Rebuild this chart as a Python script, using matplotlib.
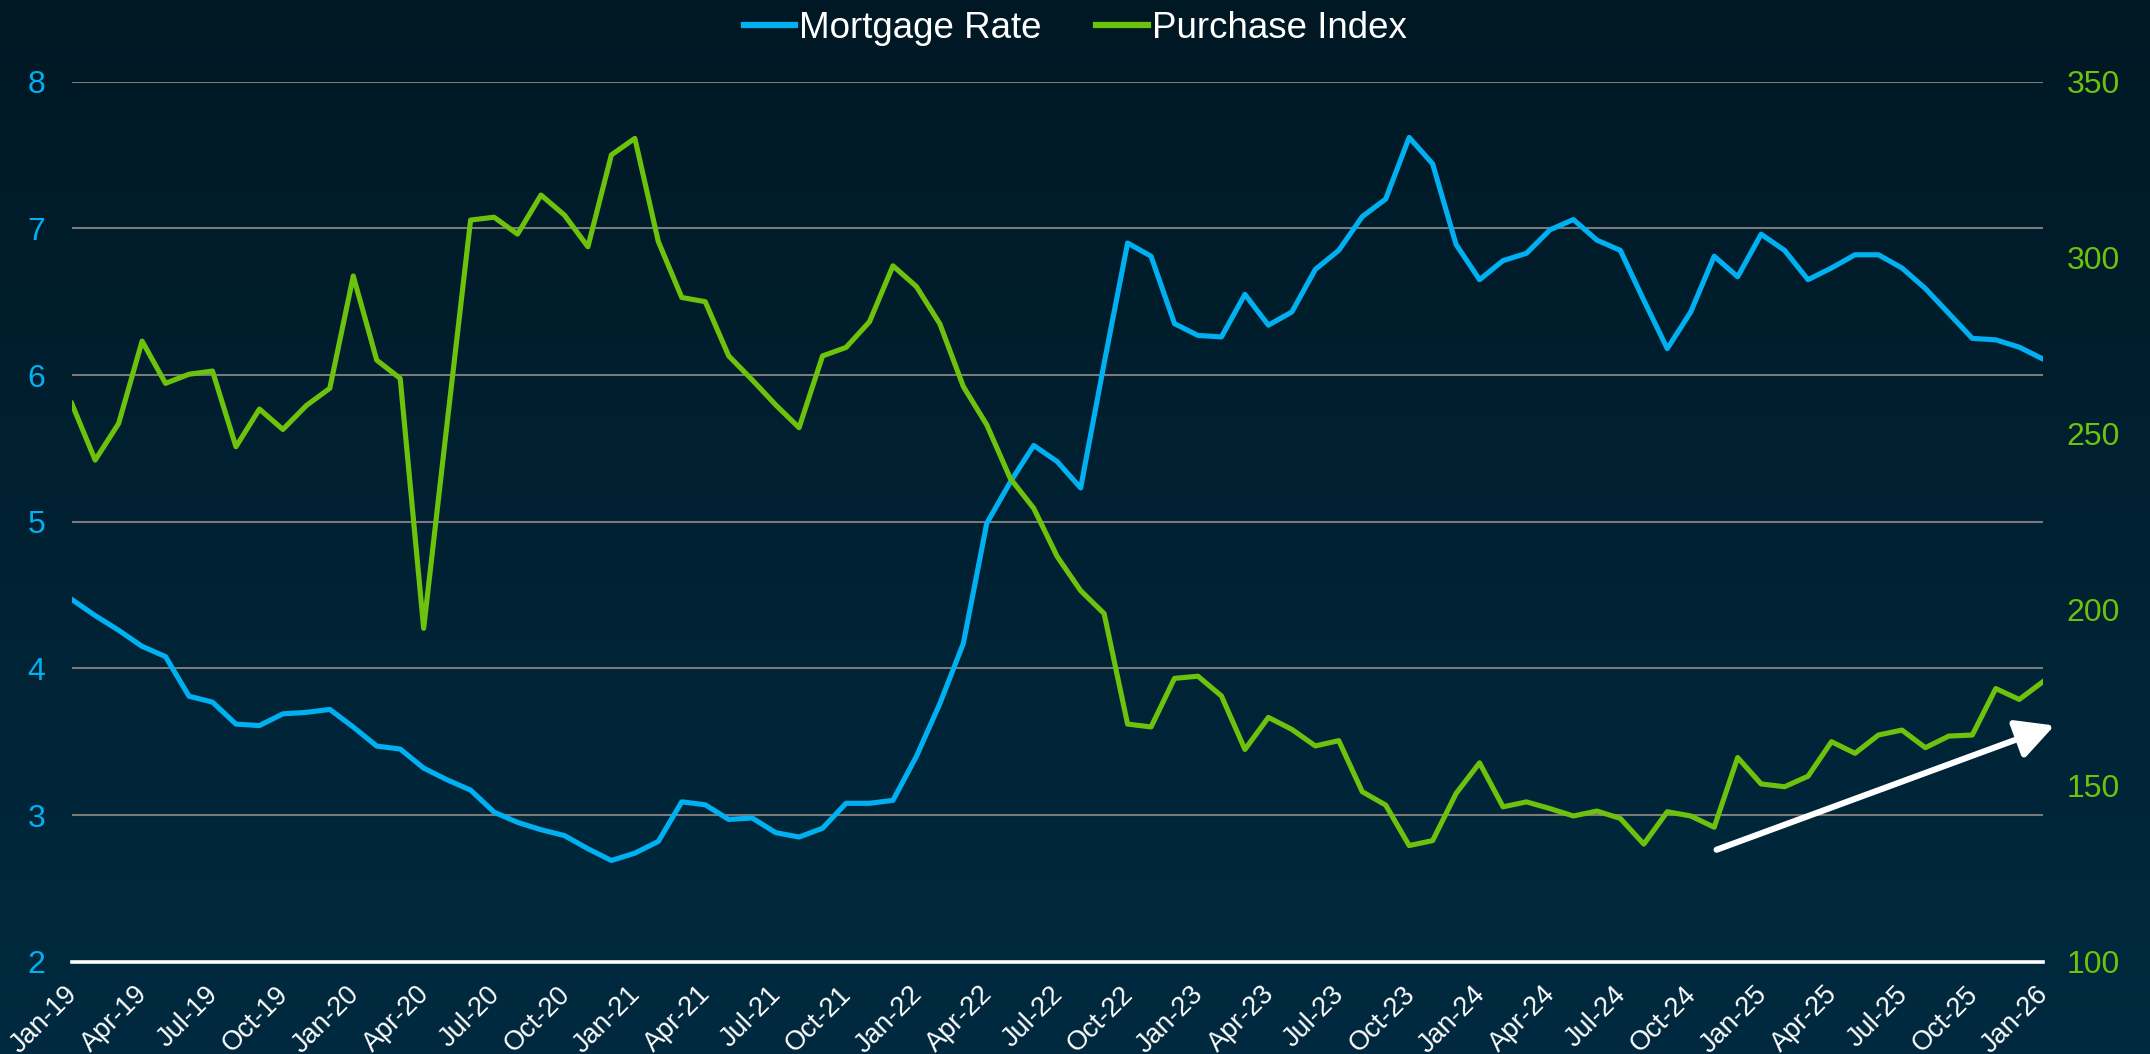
import numpy as np
import matplotlib
matplotlib.use("Agg")
import matplotlib.pyplot as plt
import matplotlib.transforms as mtransforms

plt.rcParams['font.family'] = ['Liberation Sans', 'DejaVu Sans']

# ---------------- data ----------------
months = ["Jan-19", "Feb-19", "Mar-19", "Apr-19", "May-19", "Jun-19", "Jul-19", "Aug-19", "Sep-19", "Oct-19", "Nov-19", "Dec-19",
          "Jan-20", "Feb-20", "Mar-20", "Apr-20", "May-20", "Jun-20", "Jul-20", "Aug-20", "Sep-20", "Oct-20", "Nov-20", "Dec-20",
          "Jan-21", "Feb-21", "Mar-21", "Apr-21", "May-21", "Jun-21", "Jul-21", "Aug-21", "Sep-21", "Oct-21", "Nov-21", "Dec-21",
          "Jan-22", "Feb-22", "Mar-22", "Apr-22", "May-22", "Jun-22", "Jul-22", "Aug-22", "Sep-22", "Oct-22", "Nov-22", "Dec-22",
          "Jan-23", "Feb-23", "Mar-23", "Apr-23", "May-23", "Jun-23", "Jul-23", "Aug-23", "Sep-23", "Oct-23", "Nov-23", "Dec-23",
          "Jan-24", "Feb-24", "Mar-24", "Apr-24", "May-24", "Jun-24", "Jul-24", "Aug-24", "Sep-24", "Oct-24", "Nov-24", "Dec-24",
          "Jan-25", "Feb-25", "Mar-25", "Apr-25", "May-25", "Jun-25", "Jul-25", "Aug-25", "Sep-25", "Oct-25", "Nov-25", "Dec-25",
          "Jan-26"]

mortgage_rate = [4.47, 4.36, 4.26, 4.15, 4.08, 3.81, 3.77, 3.62, 3.61, 3.69, 3.70, 3.72,
                 3.60, 3.47, 3.45, 3.32, 3.24, 3.17, 3.02, 2.95, 2.90, 2.86, 2.77, 2.69,
                 2.74, 2.82, 3.09, 3.07, 2.97, 2.98, 2.88, 2.85, 2.91, 3.08, 3.08, 3.10,
                 3.40, 3.76, 4.17, 4.99, 5.27, 5.52, 5.41, 5.23, 6.08, 6.90, 6.81, 6.35,
                 6.27, 6.26, 6.55, 6.34, 6.43, 6.72, 6.85, 7.08, 7.20, 7.62, 7.44, 6.89,
                 6.65, 6.78, 6.83, 6.99, 7.06, 6.92, 6.85, 6.51, 6.18, 6.43, 6.81, 6.67,
                 6.96, 6.85, 6.65, 6.73, 6.82, 6.82, 6.73, 6.59, 6.42, 6.25, 6.24, 6.19,
                 6.11]

purchase_index = [258.6, 242.5, 252.9, 276.3, 264.3, 266.9, 267.8, 246.3, 257.0, 251.2, 258.0, 262.9,
                  294.8, 270.9, 265.7, 194.7, 253.0, 310.7, 311.5, 306.7, 317.8, 312.1, 303.1, 329.2,
                  333.9, 304.6, 288.7, 287.5, 272.1, 265.3, 258.2, 251.7, 272.1, 274.5, 281.8, 297.7,
                  291.8, 281.2, 263.4, 252.5, 237.3, 228.8, 215.1, 205.4, 198.9, 167.5, 166.7, 180.5,
                  181.1, 175.5, 160.3, 169.4, 166.0, 161.3, 162.8, 148.3, 144.5, 133.0, 134.4, 147.8,
                  156.5, 144.0, 145.4, 143.5, 141.4, 142.8, 140.7, 133.4, 142.6, 141.4, 138.2, 158.0,
                  150.5, 149.7, 152.7, 162.5, 159.2, 164.4, 165.8, 160.8, 164.1, 164.4, 177.6, 174.5,
                  179.5]

left_ticks = [2, 3, 4, 5, 6, 7, 8]
right_ticks = [100, 150, 200, 250, 300, 350]
tick_step = 3
arrow_start = (70.1, 131.8)   # trend arrow (month index, purchase index)
arrow_end = (84.5, 167.1)

# ---------------- style ----------------
BLUE = '#00B0F0'
GREEN = '#6CC20C'
GRID = '#7A7A7A'

W, H, DPI = 2150, 1054, 100
fig = plt.figure(figsize=(W / DPI, H / DPI), dpi=DPI)

# gradient background
bg = fig.add_axes([0, 0, 1, 1], zorder=-10)
grad = np.linspace(0, 1, 256).reshape(-1, 1)
top = np.array([0.0, 24, 36]) / 255
bot = np.array([1.0, 42, 64]) / 255
img = top[None, None, :] * (1 - grad[:, :, None]) + bot[None, None, :] * grad[:, :, None]
bg.imshow(img, aspect='auto', extent=[0, 1, 0, 1], origin='upper')
bg.set_axis_off()

ax = fig.add_axes([71.7 / W, 1 - 961.7 / H, (2042.7 - 71.7) / W, (961.7 - 81.7) / H])
ax.patch.set_alpha(0)
ax2 = ax.twinx()
ax2.patch.set_alpha(0)

x = np.arange(len(months))
l1, = ax.plot(x, mortgage_rate, color=BLUE, lw=3.7, label='Mortgage Rate', zorder=3)
l2, = ax2.plot(x, purchase_index, color=GREEN, lw=3.7, label='Purchase Index', zorder=3)

ax.set_xlim(0, len(months) - 1)
ax.set_ylim(left_ticks[0], left_ticks[-1])
ax2.set_ylim(right_ticks[0], right_ticks[-1])

ax.tick_params(axis='y', length=0, pad=19, labelsize=23, labelcolor=BLUE)
ax2.tick_params(axis='y', length=0, pad=17, labelsize=23, labelcolor=GREEN)
ax.tick_params(axis='x', length=0, pad=14)

ax.set_yticks(left_ticks)
ax2.set_yticks(right_ticks)
ax.set_xticks(x[::tick_step])
ax.set_xticklabels(months[::tick_step], rotation=45, ha='right', fontsize=19.5, color='white')
offset = mtransforms.ScaledTranslation(11 / DPI, 0, fig.dpi_scale_trans)
for lab in ax.get_xticklabels():
    lab.set_transform(lab.get_transform() + offset)

ax.yaxis.grid(True, color=GRID, lw=1.5)
ax.set_axisbelow(True)
for a in (ax, ax2):
    for s in ('top', 'left', 'right', 'bottom'):
        a.spines[s].set_visible(False)
ax.axhline(left_ticks[0], color='white', lw=2.6, zorder=4, clip_on=False)

ax2.annotate('', xy=arrow_end, xytext=arrow_start, xycoords='data', textcoords='data',
             annotation_clip=False,
             arrowprops=dict(arrowstyle='-|>,head_length=1.15,head_width=0.6', mutation_scale=20,
                             lw=4.4, color='white', shrinkA=0, shrinkB=0))

leg = fig.legend([l1, l2], ['Mortgage Rate', 'Purchase Index'], loc='upper center',
                 bbox_to_anchor=(0.5, 1.021), ncol=2, frameon=False, fontsize=26.5,
                 handlelength=1.4, handletextpad=0.1, columnspacing=1.5)
for t in leg.get_texts():
    t.set_color('white')
for h in leg.legend_handles:
    h.set_linewidth(4.5)

fig.savefig('out.png', dpi=DPI)
